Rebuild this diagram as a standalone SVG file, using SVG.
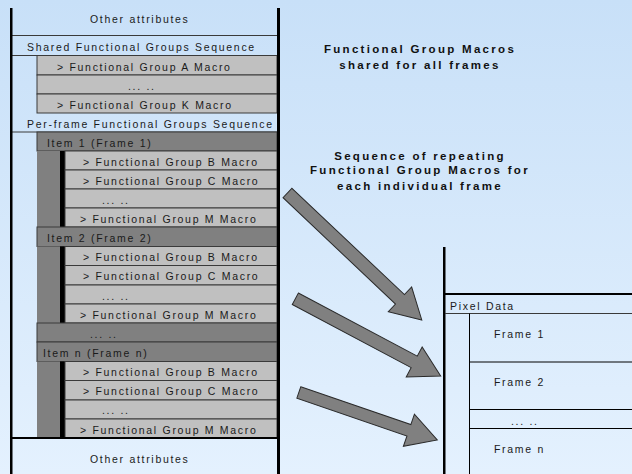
<svg xmlns="http://www.w3.org/2000/svg" width="632" height="474" viewBox="0 0 632 474">
<defs>
<linearGradient id="bg" x1="0" y1="0" x2="0" y2="1">
<stop offset="0" stop-color="#C8E0F8"/>
<stop offset="1" stop-color="#E4F1FE"/>
</linearGradient>
<style>
.t{font-family:"Liberation Sans",Arial,sans-serif;font-size:10.5px;letter-spacing:1.7px;fill:#1a1a1a}
.h{font-family:"Liberation Sans",Arial,sans-serif;font-size:11.5px;font-weight:bold;letter-spacing:2.3px;fill:#111;text-anchor:middle}
.lg{fill:#C0C0C0;stroke:#3a3a3a;stroke-width:1}
.dg{fill:#808080;stroke:#3a3a3a;stroke-width:1}
.ln{stroke:#3a3a3a;stroke-width:1;fill:none}
.bl{fill:#000}
.ar{fill:#808080;stroke:#2a2a2a;stroke-width:1;stroke-linejoin:miter}
</style>
</defs>
<rect x="0" y="0" width="632" height="474" fill="url(#bg)"/>

<g id="left-panel">
<g id="other-top">
<text class="t" x="90" y="22.5">Other attributes</text>
<line class="ln" x1="12" y1="35.5" x2="277" y2="35.5"/>
</g>
<g id="shared-seq">
<text class="t" x="27" y="50.5">Shared Functional Groups Sequence</text>
<line class="ln" x1="12" y1="55.5" x2="277" y2="55.5"/>
<rect class="lg" x="37" y="55.5" width="240" height="19.5"/>
<text class="t" x="57" y="70.5">&gt; Functional Group A Macro</text>
<rect class="lg" x="37" y="75" width="240" height="19"/>
<text class="t" x="128" y="90">... ..</text>
<rect class="lg" x="37" y="94" width="240" height="19"/>
<text class="t" x="57" y="109">&gt; Functional Group K Macro</text>
</g>
<g id="perframe-seq">
<text class="t" x="27" y="128">Per-frame Functional Groups Sequence</text>
<line class="ln" x1="12" y1="132" x2="277" y2="132"/>
</g>
<g id="item1">
<rect class="dg" x="37" y="132" width="240" height="19"/>
<text class="t" x="47" y="146.5">Item 1 (Frame 1)</text>
<rect x="37" y="151" width="23" height="76" fill="#808080"/>
<rect class="bl" x="60" y="151" width="5" height="76"/>
<rect class="lg" x="65" y="151" width="212" height="19"/>
<text class="t" x="83" y="165.5">&gt; Functional Group B Macro</text>
<rect class="lg" x="65" y="170" width="212" height="19"/>
<text class="t" x="83" y="184.5">&gt; Functional Group C Macro</text>
<rect class="lg" x="65" y="189" width="212" height="19"/>
<text class="t" x="102" y="204">... ..</text>
<rect class="lg" x="65" y="208" width="212" height="19"/>
<text class="t" x="80" y="222.5">&gt; Functional Group M Macro</text>
</g>
<g id="item2">
<rect class="dg" x="37" y="227" width="240" height="19.5"/>
<text class="t" x="47" y="241.5">Item 2 (Frame 2)</text>
<rect x="37" y="246.5" width="23" height="76.5" fill="#808080"/>
<rect class="bl" x="60" y="246.5" width="5" height="76.5"/>
<rect class="lg" x="65" y="246.5" width="212" height="19"/>
<text class="t" x="83" y="260.5">&gt; Functional Group B Macro</text>
<rect class="lg" x="65" y="265.5" width="212" height="19.5"/>
<text class="t" x="83" y="280">&gt; Functional Group C Macro</text>
<rect class="lg" x="65" y="285" width="212" height="19"/>
<text class="t" x="102" y="300">... ..</text>
<rect class="lg" x="65" y="304" width="212" height="19"/>
<text class="t" x="80" y="318.5">&gt; Functional Group M Macro</text>
</g>
<g id="item-more">
<rect class="dg" x="37" y="323" width="240" height="19"/>
<text class="t" x="90" y="337.5">... ..</text>
</g>
<g id="itemn">
<rect class="dg" x="37" y="342" width="240" height="19.5"/>
<text class="t" x="43" y="356.5">Item n (Frame n)</text>
<rect x="37" y="361.5" width="23" height="76.5" fill="#808080"/>
<rect class="bl" x="60" y="361.5" width="5" height="76.5"/>
<rect class="lg" x="65" y="361.5" width="212" height="19"/>
<text class="t" x="83" y="375.5">&gt; Functional Group B Macro</text>
<rect class="lg" x="65" y="380.5" width="212" height="19.5"/>
<text class="t" x="83" y="395">&gt; Functional Group C Macro</text>
<rect class="lg" x="65" y="400" width="212" height="19"/>
<text class="t" x="102" y="414">... ..</text>
<rect class="lg" x="65" y="419" width="212" height="19"/>
<text class="t" x="80" y="433.5">&gt; Functional Group M Macro</text>
</g>
<g id="other-bottom">
<rect class="bl" x="12" y="437" width="265" height="2"/>
<text class="t" x="90" y="462.5">Other attributes</text>
</g>
<rect class="bl" x="10" y="8" width="2.5" height="466"/>
<rect class="bl" x="277" y="8" width="3" height="466"/>
</g>

<g id="labels">
<text class="h" x="420" y="52.5">Functional Group Macros</text>
<text class="h" x="420" y="68.5">shared for all frames</text>
<text class="h" x="420" y="159.5">Sequence of repeating</text>
<text class="h" x="420" y="173.5">Functional Group Macros for</text>
<text class="h" x="420" y="189.5">each individual frame</text>
</g>

<g id="pixel-data">
<rect class="bl" x="443" y="247" width="2.5" height="227"/>
<rect class="bl" x="445" y="293" width="187" height="2"/>
<text class="t" x="450" y="310">Pixel Data</text>
<line class="ln" x1="445" y1="313.5" x2="632" y2="313.5"/>
<line x1="469.5" y1="313.5" x2="469.5" y2="474" stroke="#000" stroke-width="1"/>
<g id="frame1"><text class="t" x="494" y="338">Frame 1</text></g>
<line x1="469.5" y1="362" x2="632" y2="362" stroke="#000" stroke-width="1"/>
<g id="frame2"><text class="t" x="494" y="386">Frame 2</text></g>
<line x1="469.5" y1="409.5" x2="632" y2="409.5" stroke="#000" stroke-width="1"/>
<g id="frame-more"><text class="t" x="511" y="425">... ..</text></g>
<line x1="469.5" y1="428.5" x2="632" y2="428.5" stroke="#000" stroke-width="1"/>
<g id="framen"><text class="t" x="494" y="452.5">Frame n</text></g>
</g>

<g id="connectors">
<polygon class="ar" transform="translate(287.5,193) rotate(43.4)" points="0,-6.5 154.8,-6.5 154.8,-17 184.8,0 154.8,17 154.8,6.5 0,6.5"/>
<polygon class="ar" transform="translate(295.3,298.8) rotate(27.96)" points="0,-6.5 134.6,-6.5 134.6,-17 164.6,0 134.6,17 134.6,6.5 0,6.5"/>
<polygon class="ar" transform="translate(298.8,392.5) rotate(18.93)" points="0,-6 116.4,-6 116.4,-17 146.4,0 116.4,17 116.4,6 0,6"/>
</g>
</svg>
